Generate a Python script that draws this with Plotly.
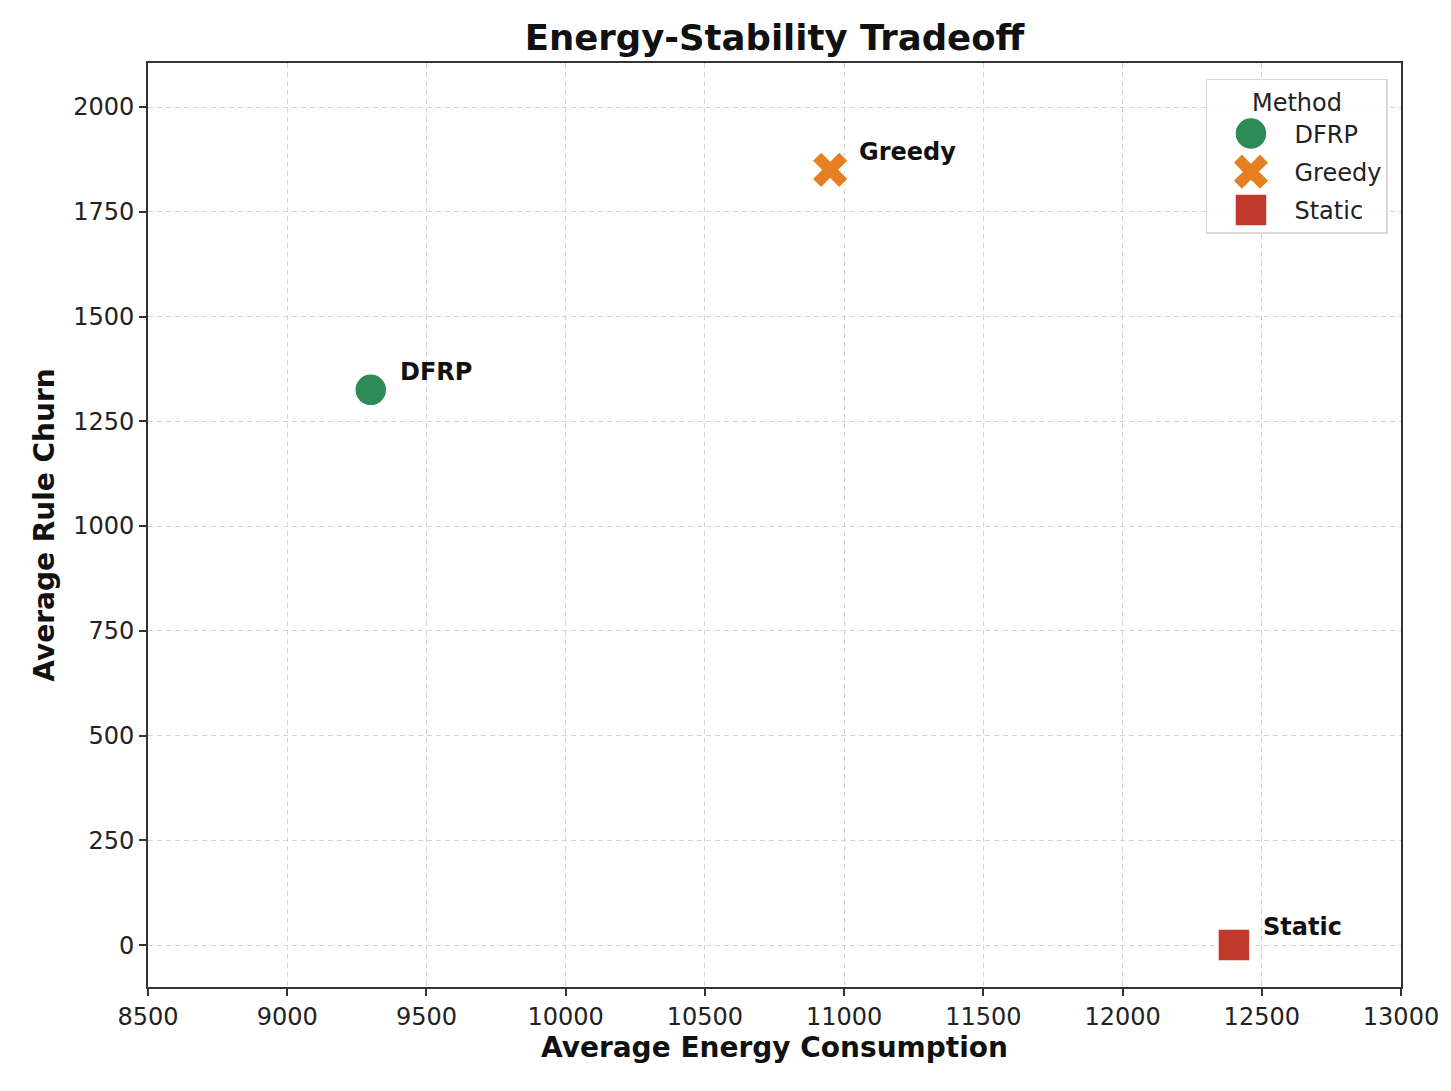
import plotly.graph_objects as go

methods = ["DFRP", "Greedy", "Static"]
energy = [9300, 10950, 12400]
churn = [1325, 1850, 0]
colors = ["#2E8B57", "#E67E22", "#C0392B"]
symbols = ["circle", "x", "square"]

x_ticks = [8500, 9000, 9500, 10000, 10500, 11000, 11500, 12000, 12500, 13000]
y_ticks = [0, 250, 500, 750, 1000, 1250, 1500, 1750, 2000]

FONT = "DejaVu Sans"

fig = go.Figure()
for m, xv, yv, c, s in zip(methods, energy, churn, colors, symbols):
    fig.add_trace(go.Scatter(
        x=[xv], y=[yv], mode="markers", name=m, legendgroup=m,
        marker=dict(color=c, symbol=s, size=32, line=dict(color="white", width=1.5)),
    ))
    fig.add_annotation(
        x=xv, y=yv, text=f"<b>{m}</b>", showarrow=False,
        xanchor="left", yanchor="middle", xshift=27, yshift=18,
        font=dict(family=FONT, size=24, color="#111111"),
    )

axis_common = dict(
    showgrid=True, gridcolor="#d4d4d4", griddash="5px,4px", gridwidth=1.2,
    showline=True, linecolor="#333333", linewidth=1.8, mirror=True,
    ticks="outside", ticklen=7, tickwidth=1.5, tickcolor="#333333",
    tickfont=dict(family=FONT, size=24, color="#222222"),
    zeroline=False,
)

fig.update_layout(
    width=1451, height=1091,
    margin=dict(l=140, r=58, t=55, b=112),
    paper_bgcolor="white", plot_bgcolor="white",
    title=dict(text="<b>Energy-Stability Tradeoff</b>", x=0.5, xref="paper", xanchor="center",
               y=0.973, yref="container", yanchor="middle",
               font=dict(family=FONT, size=35.5, color="#111111")),
    xaxis=dict(range=[8500, 13000], tickvals=x_ticks, ticktext=[str(v) for v in x_ticks],
               title=dict(text="<b>Average Energy Consumption</b>", standoff=8,
                          font=dict(family=FONT, size=28, color="#111111")),
               **axis_common),
    yaxis=dict(range=[-100, 2105], tickvals=y_ticks, ticktext=[str(v) for v in y_ticks],
               title=dict(text="<b>Average Rule Churn</b>", standoff=10,
                          font=dict(family=FONT, size=28, color="#111111")),
               **axis_common),
    legend=dict(
        title=dict(text="Method", side="top center", font=dict(family=FONT, size=24, color="#222222")),
        font=dict(family=FONT, size=24, color="#222222"),
        x=0.9896, xanchor="right", y=0.983, yanchor="top",
        bgcolor="rgba(255,255,255,0.85)", bordercolor="#d8d8d8", borderwidth=1.5,
        tracegroupgap=4, itemwidth=77,
    ),
    showlegend=True,
)

post = """
var gd = document.getElementById('{plot_id}');
function enlargeLegend(){
  gd.querySelectorAll('.legend .legendpoints path.scatterpts').forEach(function(p){
    if(!p.hasAttribute('data-orig')){ p.setAttribute('data-orig', p.getAttribute('transform') || ''); }
    p.setAttribute('transform', p.getAttribute('data-orig') + ' scale(2)');
    p.style.strokeWidth = '0.75px';
  });
}
enlargeLegend();
gd.on('plotly_afterplot', enlargeLegend);
setTimeout(enlargeLegend, 50);
"""

fig.write_html("out.html", post_script=post)
